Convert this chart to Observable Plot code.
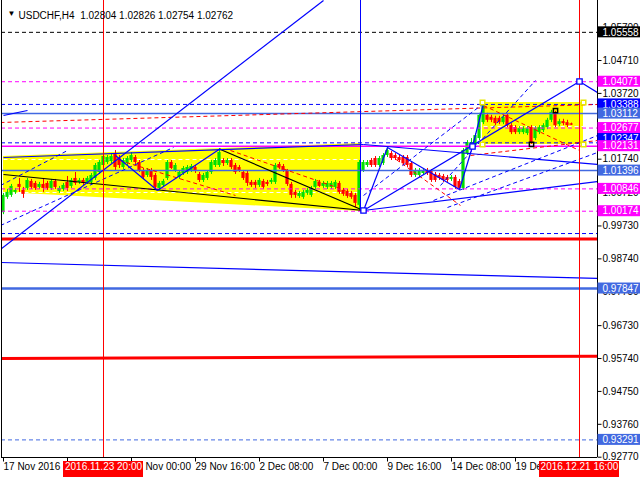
<!DOCTYPE html>
<html><head><meta charset="utf-8">
<script src="https://cdn.jsdelivr.net/npm/d3@7"></script>
<script src="https://cdn.jsdelivr.net/npm/@observablehq/plot@0.6"></script>
<style>html,body{margin:0;padding:0;background:#fff;overflow:hidden}svg{display:block}</style>
</head><body><div id="chart"></div>
<script>
// ---------------- DATA ----------------
const symbolTitle = "USDCHF,H4";
const lastOHLC = [1.02804, 1.02826, 1.02754, 1.02762];

const candleOpen = [
1.0013,1.0059,1.0065,1.0074,1.0098,1.0080,1.0086,1.0107,1.0101,1.0089,
1.0098,1.0101,1.0086,1.0107,1.0077,1.0083,1.0104,1.0092,1.0116,1.0104,
1.0110,1.0104,1.0104,1.0116,1.0134,1.0155,1.0164,1.0167,1.0188,1.0176,
1.0149,1.0161,1.0170,1.0179,1.0164,1.0140,1.0125,1.0140,1.0125,1.0086,
1.0095,1.0116,1.0164,1.0140,1.0119,1.0131,1.0134,1.0140,1.0149,1.0128,
1.0110,1.0116,1.0134,1.0155,1.0155,1.0170,1.0161,1.0170,1.0155,1.0149,
1.0134,1.0131,1.0104,1.0104,1.0095,1.0107,1.0104,1.0104,1.0104,1.0158,
1.0152,1.0137,1.0098,1.0074,1.0062,1.0059,1.0071,1.0065,1.0089,1.0104,
1.0092,1.0089,1.0089,1.0089,1.0101,1.0080,1.0077,1.0071,1.0065,1.0035,
1.0140,1.0155,1.0170,1.0176,1.0155,1.0161,1.0185,1.0191,1.0185,1.0179,
1.0179,1.0179,1.0161,1.0125,1.0125,1.0131,1.0140,1.0137,1.0128,1.0125,
1.0122,1.0119,1.0113,1.0119,1.0107,1.0086,1.0191,1.0206,1.0215,1.0236,
1.0284,1.0306,1.0300,1.0297,1.0297,1.0284,1.0306,1.0275,1.0269,1.0254,
1.0254,1.0251,1.0269,1.0236,1.0254,1.0260,1.0269,1.0291,1.0312,1.0278,
1.0287,1.0284,1.02804];
const candleHigh = [
1.0071,1.0083,1.0098,1.0086,1.0116,1.0089,1.0116,1.0113,1.0107,1.0104,
1.0116,1.0107,1.0113,1.0113,1.0092,1.0101,1.0122,1.0116,1.0134,1.0116,
1.0116,1.0122,1.0131,1.0161,1.0170,1.0188,1.0185,1.0191,1.0200,1.0185,
1.0176,1.0182,1.0194,1.0185,1.0170,1.0146,1.0146,1.0146,1.0131,1.0107,
1.0113,1.0170,1.0170,1.0161,1.0140,1.0152,1.0155,1.0158,1.0155,1.0134,
1.0131,1.0140,1.0170,1.0176,1.0206,1.0176,1.0176,1.0176,1.0161,1.0155,
1.0140,1.0137,1.0110,1.0110,1.0116,1.0113,1.0110,1.0116,1.0161,1.0164,
1.0158,1.0143,1.0104,1.0080,1.0077,1.0080,1.0086,1.0092,1.0113,1.0110,
1.0107,1.0107,1.0107,1.0110,1.0107,1.0086,1.0083,1.0077,1.0071,1.0170,
1.0170,1.0170,1.0176,1.0182,1.0182,1.0191,1.0209,1.0197,1.0191,1.0185,
1.0185,1.0185,1.0167,1.0146,1.0146,1.0146,1.0146,1.0143,1.0134,1.0131,
1.0128,1.0125,1.0125,1.0125,1.0113,1.0206,1.0230,1.0236,1.0251,1.0312,
1.0345,1.0312,1.0306,1.0303,1.0303,1.0306,1.0312,1.0281,1.0275,1.0272,
1.0272,1.0272,1.0275,1.0272,1.0275,1.0281,1.0297,1.0321,1.0318,1.0294,
1.0294,1.0291,1.02826];
const candleLow = [
1.0007,1.0053,1.0059,1.0068,1.0074,1.0056,1.0080,1.0083,1.0080,1.0083,
1.0074,1.0080,1.0080,1.0083,1.0071,1.0077,1.0077,1.0086,1.0095,1.0098,
1.0095,1.0098,1.0098,1.0110,1.0128,1.0149,1.0158,1.0161,1.0140,1.0146,
1.0143,1.0155,1.0164,1.0158,1.0134,1.0113,1.0119,1.0110,1.0080,1.0080,
1.0089,1.0110,1.0143,1.0134,1.0113,1.0125,1.0128,1.0134,1.0131,1.0104,
1.0104,1.0110,1.0128,1.0149,1.0149,1.0152,1.0155,1.0143,1.0128,1.0134,
1.0110,1.0092,1.0089,1.0086,1.0089,1.0083,1.0092,1.0098,1.0098,1.0143,
1.0134,1.0092,1.0056,1.0056,1.0056,1.0053,1.0065,1.0059,1.0083,1.0089,
1.0086,1.0083,1.0083,1.0083,1.0068,1.0062,1.0056,1.0053,1.0029,1.0020,
1.0134,1.0149,1.0149,1.0149,1.0149,1.0155,1.0179,1.0170,1.0170,1.0164,
1.0155,1.0149,1.0119,1.0119,1.0119,1.0125,1.0125,1.0104,1.0104,1.0110,
1.0104,1.0104,1.0107,1.0083,1.0080,1.0080,1.0185,1.0200,1.0209,1.0230,
1.0278,1.0284,1.0284,1.0275,1.0278,1.0278,1.0269,1.0248,1.0248,1.0248,
1.0248,1.0245,1.0218,1.0230,1.0248,1.0254,1.0263,1.0284,1.0269,1.0272,
1.0275,1.0269,1.02754];
const candleClose = [
1.0065,1.0074,1.0092,1.0080,1.0089,1.0068,1.0110,1.0089,1.0086,1.0098,
1.0086,1.0086,1.0107,1.0089,1.0086,1.0095,1.0086,1.0110,1.0101,1.0110,
1.0101,1.0116,1.0125,1.0155,1.0164,1.0182,1.0179,1.0182,1.0149,1.0155,
1.0170,1.0176,1.0185,1.0164,1.0140,1.0119,1.0140,1.0119,1.0089,1.0101,
1.0107,1.0164,1.0146,1.0155,1.0134,1.0146,1.0149,1.0152,1.0137,1.0110,
1.0125,1.0134,1.0164,1.0170,1.0194,1.0161,1.0170,1.0149,1.0134,1.0140,
1.0116,1.0101,1.0095,1.0095,1.0110,1.0089,1.0098,1.0110,1.0155,1.0149,
1.0140,1.0098,1.0065,1.0065,1.0071,1.0074,1.0080,1.0086,1.0107,1.0092,
1.0101,1.0101,1.0101,1.0104,1.0074,1.0068,1.0062,1.0059,1.0041,1.0164,
1.0164,1.0164,1.0155,1.0155,1.0176,1.0185,1.0200,1.0176,1.0176,1.0170,
1.0161,1.0155,1.0125,1.0137,1.0137,1.0140,1.0131,1.0110,1.0110,1.0116,
1.0110,1.0110,1.0119,1.0089,1.0086,1.0200,1.0224,1.0224,1.0245,1.0306,
1.0336,1.0291,1.0291,1.0281,1.0284,1.0300,1.0275,1.0254,1.0254,1.0266,
1.0266,1.0266,1.0224,1.0266,1.0269,1.0275,1.0291,1.0315,1.0275,1.0287,
1.0281,1.0275,1.02762];

// horizontal levels (prices)
const blackDashedLevels = [1.05558];
const magentaDashedLevels = [1.04071, 1.02677, 1.00846, 1.00174];
const magentaSolidLevels = [1.02131];
const blueDashedLevels = [1.03388, 1.02232, 0.99502];
const royalSolidLevels = [1.03112, 1.01396];
const royalThickLevels = [0.97847];
const royalDashedLevels = [0.93291];
const redThickLevels = [0.99337];

// drawn segments [barIndex1, price1, barIndex2, price2]
const blueSolidSegs = [
  [0, 1.03055, 6, 1.03205],
  [-0.75, 0.99022, 80, 1.06516],
  [0, 1.01791, 90, 1.02182],
  [90, 1.02182, 148.5, 1.01580],
  [28, 1.01851, 38.5, 1.00797],
  [38.5, 1.00797, 54.25, 1.02062],
  [90, 1.00195, 96, 1.02092],
  [96, 1.02092, 114, 1.00827],
  [114, 1.00827, 117.25, 1.02122],
  [117.25, 1.02122, 120, 1.03416],
  [90, 1.00195, 148.5, 1.01068],
  [90, 1.00195, 144, 1.04078],
  [144, 1.04078, 148.5, 1.03747],
  [-0.75, 0.98630, 148.5, 0.98149]
];
const blackSegs = [[0, 1.01279, 90, 1.00195], [54.25, 1.02031, 90, 1.00195]];
const blueDashedSegs = [
  [-0.75, 1.00948, 16, 1.02001],
  [-0.75, 0.99744, 42.5, 1.02092],
  [90, 1.00647, 120, 1.03416],
  [109.25, 1.00948, 133, 1.04108],
  [107.5, 1.00496, 148.5, 1.02452],
  [111, 1.00286, 148.5, 1.01941]
];
const redDashedSegs = [
  [-0.75, 1.02844, 148.5, 1.03386],
  [29, 1.01700, 58, 1.00647],
  [56.75, 1.02001, 85.5, 1.00797],
  [96.75, 1.01851, 114.25, 1.00346],
  [120, 1.03356, 144, 1.02001],
  [116.75, 1.01851, 148.5, 1.02302]
];
const redThickSegs = [[-0.75, 0.95741, 148.5, 0.95810]];
const whiteDashedSegs = [[0, 1.01730, 89.5, 1.01730], [0, 1.00737, 89.5, 1.00737], [120, 1.02723, 145, 1.02723]];
const blueVertical = [[89.25, 1.00195, 1.06516]];
const leftYellow = [[0, 1.00737, 1.01821], [89.5, 1.00165, 1.02212]];
const rightYellow = [[119.75, 145, 1.02182, 1.03446]];
const blueSquares = [[90, 1.00195], [117.25, 1.02122], [144, 1.04078]];
const yellowSquares = [[119.75, 1.03446], [145, 1.03446], [119.75, 1.02182], [145, 1.02182]];
const blackSquares = [[138, 1.03205], [132, 1.02182]];

// axes
const priceTicks = [1.05700, 1.04710, 1.03720, 1.02730, 1.01740, 1.00720, 0.99730, 0.98740, 0.97750, 0.96730, 0.95740, 0.94750, 0.93760, 0.92770];
const priceTickLabels = ["1.05700", "1.04710", "1.03720", "", "1.01740", "1.00720", "0.99730", "0.98740", "0.97750", "0.96730", "0.95740", "0.94750", "0.93760", "0.92770"];
const priceLabelValues = [1.02347, 1.05558, 1.04071, 1.03388, 1.03112, 1.02677, 1.02131, 1.01396, 1.00846, 1.00174, 0.97847, 0.93291];
const timeTickIndex = [0, 16, 32, 48, 64, 80, 96, 112, 128];
const timeTickLabels = ["17 Nov 2016", "", "25 Nov 00:00", "29 Nov 16:00", "2 Dec 08:00", "7 Dec 00:00", "9 Dec 16:00", "14 Dec 08:00", "19 Dec 00:00"];
const markerIndex = [25, 144];
const markerLabels = ["2016.11.23 20:00", "2016.12.21 16:00"];

// ---------------- LAYOUT ----------------
const W = 640, H = 480, mL = 1, mR = 43, mT = 0, mB = 23;
const xMin = -0.5, xMax = 148.5, yMin = 0.92761, yMax = 1.06516;
const pxPerPrice = (H - mT - mB) / (yMax - yMin);
const pxPerBar = (W - mL - mR) / (xMax - xMin);
const yAt = px => yMax - (px - mT) / pxPerPrice;
const xAt = px => xMin + (px - mL) / pxPerBar;

const MAGENTA = "#ff00ff", BLUE = "#0000ff", ROYAL = "#4169e1", RED = "#ff0000",
      GREEN = "#00e000", BLACK = "#000000", YELLOW = "#ffff00";
const labelColors = {1.02347: BLUE, 1.05558: BLACK, 1.04071: MAGENTA, 1.03388: BLUE, 1.03112: ROYAL,
  1.02677: MAGENTA, 1.02131: MAGENTA, 1.01396: ROYAL, 1.00846: MAGENTA, 1.00174: MAGENTA, 0.97847: ROYAL, 0.93291: ROYAL};

const bars = candleOpen.map((o, i) => ({i, o, h: candleHigh[i], l: candleLow[i], c: candleClose[i]}));
const upBars = bars.filter(d => d.c >= d.o), downBars = bars.filter(d => d.c < d.o);

const seg = (arr, stroke, opts = {}) => Plot.link(arr, {x1: d => d[0], y1: d => d[1], x2: d => d[2], y2: d => d[3], stroke, clip: true, ...opts});
const hl = (arr, stroke, opts = {}) => Plot.ruleY(arr, {y: d => d, stroke, ...opts});
const DASH = "4,3";
const boxHalf = 5.5 / pxPerPrice;

// one box + text per price label, in order, so later boxes cover earlier labels
const priceLabelMarks = priceLabelValues.flatMap(v => [
  Plot.rect([v], {x1: xAt(597.5), x2: xAt(641), y1: d => d - boxHalf, y2: d => d + boxHalf, fill: labelColors[v]}),
  Plot.text([v], {x: xAt(602), y: d => d, text: d => d.toFixed(5), textAnchor: "start", fill: "#fff", fontSize: 10})
]);

const chart = Plot.plot({
  width: W, height: H, marginTop: mT, marginRight: mR, marginBottom: mB, marginLeft: mL,
  style: {fontFamily: "'Liberation Sans', Arial, sans-serif", fontSize: "10px", background: "#fff", overflow: "visible"},
  x: {domain: [xMin, xMax], axis: null},
  y: {domain: [yMin, yMax], axis: null},
  marks: [
    // yellow drawings
    Plot.areaY(leftYellow, {x: d => d[0], y1: d => d[1], y2: d => d[2], fill: YELLOW, fillOpacity: 1}),
    Plot.rect(rightYellow, {x1: d => d[0], x2: d => d[1], y1: d => d[2], y2: d => d[3], fill: YELLOW}),
    seg(whiteDashedSegs, "#ffffff", {strokeDasharray: DASH}),
    // candles
    Plot.ruleX(upBars, {x: "i", y1: "l", y2: "h", stroke: GREEN}),
    Plot.ruleX(downBars, {x: "i", y1: "l", y2: "h", stroke: RED}),
    Plot.rect(upBars, {x1: d => d.i - 0.4, x2: d => d.i + 0.4, y1: "o", y2: "c", fill: GREEN}),
    Plot.rect(downBars, {x1: d => d.i - 0.4, x2: d => d.i + 0.4, y1: "o", y2: "c", fill: RED}),
    // levels
    hl(blackDashedLevels, BLACK, {strokeDasharray: DASH}),
    hl(magentaDashedLevels, MAGENTA, {strokeDasharray: DASH}),
    hl(magentaSolidLevels, MAGENTA, {strokeWidth: 1.5}),
    hl(blueDashedLevels, BLUE, {strokeDasharray: DASH}),
    hl(royalSolidLevels, ROYAL, {strokeWidth: 1.5}),
    hl(royalThickLevels, ROYAL, {strokeWidth: 2.5}),
    hl(royalDashedLevels, ROYAL, {strokeDasharray: DASH}),
    hl(redThickLevels, RED, {strokeWidth: 3}),
    seg(redThickSegs, RED, {strokeWidth: 3}),
    // drawn lines
    seg(redDashedSegs, RED, {strokeDasharray: DASH}),
    seg(blueDashedSegs, BLUE, {strokeDasharray: DASH}),
    seg(blackSegs, BLACK, {strokeWidth: 1.2}),
    seg(blueSolidSegs, BLUE, {strokeWidth: 1.2}),
    Plot.ruleX(blueVertical, {x: d => d[0], y1: d => d[1], y2: d => d[2], stroke: BLUE}),
    Plot.ruleX(markerIndex, {x: d => d, stroke: RED}),
    // anchors
    Plot.dot(yellowSquares, {x: d => d[0], y: d => d[1], symbol: "square", r: 2.6, stroke: "#e8e800", fill: "#fff"}),
    Plot.dot(blackSquares, {x: d => d[0], y: d => d[1], symbol: "square", r: 2.4, stroke: BLACK, fill: "none"}),
    Plot.dot(blueSquares, {x: d => d[0], y: d => d[1], symbol: "square", r: 3, stroke: BLUE, fill: "#fff", strokeWidth: 1.3}),
    // frame lines
    Plot.ruleX([xMin], {stroke: BLACK}),
    Plot.ruleX([xMax], {stroke: BLACK}),
    Plot.ruleY([yMin], {stroke: BLACK}),
    // price axis
    Plot.link(priceTicks, {x1: xMax, x2: xAt(601), y1: d => d, y2: d => d, stroke: BLACK}),
    Plot.text(priceTicks, {x: xAt(602), y: d => d, text: (d, i) => priceTickLabels[i], textAnchor: "start", fill: BLACK, fontSize: 10}),
    ...priceLabelMarks,
    // time axis
    Plot.link(timeTickIndex, {x1: d => d, x2: d => d, y1: yMin, y2: yAt(461), stroke: BLACK}),
    Plot.text(timeTickIndex, {x: d => d, text: (d, i) => timeTickLabels[i], frameAnchor: "bottom", dy: 12, textAnchor: "start", fill: BLACK, fontSize: 10}),
    Plot.rect(markerIndex, {x1: d => d - 10, x2: d => d + 10, y1: yAt(461), y2: yAt(477), fill: RED}),
    Plot.text(markerIndex, {x: d => d, text: (d, i) => markerLabels[i], frameAnchor: "bottom", dy: 12, textAnchor: "middle", fill: "#fff", fontSize: 10}),
    // title
    Plot.text(["\u25BC"], {frameAnchor: "top-left", dx: 6, dy: 10, textAnchor: "start", fontSize: 8, fill: BLACK}),
    Plot.text([symbolTitle + "\u00a0\u00a0" + lastOHLC.map(v => v.toFixed(5)).join(" ")], {frameAnchor: "top-left", dx: 17, dy: 11, textAnchor: "start", fill: BLACK, fontSize: 10})
  ]
});
document.getElementById("chart").append(chart);
</script>
</body></html>
